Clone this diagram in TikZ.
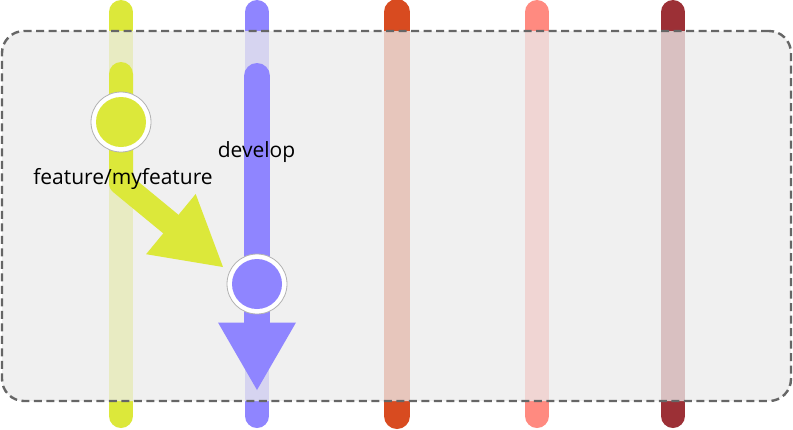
\documentclass[tikz,border=0pt]{standalone}
\usepackage{fontspec}
\setmainfont{Open Sans}
\usetikzlibrary{arrows.meta}
\definecolor{cyel}{RGB}{220,232,58}
\definecolor{cblue}{RGB}{143,133,255}
\definecolor{corange}{RGB}{216,75,32}
\definecolor{cpink}{RGB}{255,138,128}
\definecolor{cdred}{RGB}{156,48,54}
\definecolor{cpanel}{RGB}{236,236,236}
\definecolor{cdash}{RGB}{102,102,102}
\begin{document}
\begin{tikzpicture}[x=1pt,y=-1pt,
  lane/.style={line width=24pt, line cap=round},
  flow/.style={line width=24pt, line cap=round, line join=round,
    -{Triangle[length=67.5pt,width=78pt,line width=0pt]}},
  panel/.style={draw=cdash, line width=2.4pt, dash pattern=on 8pt off 4.5pt,
    fill=cpanel, fill opacity=0.77, rounded corners=22pt,
    minimum width=789pt, minimum height=370pt, inner sep=0pt},
  commit/.style={circle, minimum size=60pt, inner sep=0pt, fill=white,
    draw=gray!60, line width=0.8pt},
  lbl/.style={font=\fontsize{21}{24}\selectfont, text=black, inner sep=0pt, anchor=base}]
\useasboundingbox (0,0) rectangle (793,429);
\fill[white] (0,0) rectangle (793,429);
% lane end points
\coordinate (fa) at (121,12);  \coordinate (fb) at (121,416);
\coordinate (da) at (257,12);  \coordinate (db) at (257,416);
\coordinate (oa) at (397,12);  \coordinate (ob) at (397,416);
\coordinate (pa) at (537,12);  \coordinate (pb) at (537,416);
\coordinate (ra) at (673,12);  \coordinate (rb) at (673,416);
\draw[lane, cyel] (fa) -- (fb);
\draw[lane, cblue] (da) -- (db);
\draw[lane, corange, line width=26pt] (oa) -- (ob);
\draw[lane, cpink] (pa) -- (pb);
\draw[lane, cdred] (ra) -- (rb);
% panel
\node[panel] (panel) at (396.5,216) {};
% flows
\coordinate (ftop) at (121,74);
\coordinate (fbend) at (121,183);
\coordinate (ftip) at (223,267);
\coordinate (dtop) at (257,76);
\coordinate (dtip) at (257,390);
\draw[flow, cyel] (ftop) -- (fbend) -- (ftip);
\draw[flow, cblue, line width=26pt] (dtop) -- (dtip);
% commits
\node[commit, path picture={\fill[cyel] (path picture bounding box.center) circle (25pt);}] (c1) at (121,122) {};
\node[commit, path picture={\fill[cblue] (path picture bounding box.center) circle (25pt);}] (c2) at (257,284) {};
% labels
\node[lbl] (lf) at (123,184) {feature/myfeature};
\node[lbl] (ld) at (256.5,157.5) {develop};
\end{tikzpicture}
\end{document}
